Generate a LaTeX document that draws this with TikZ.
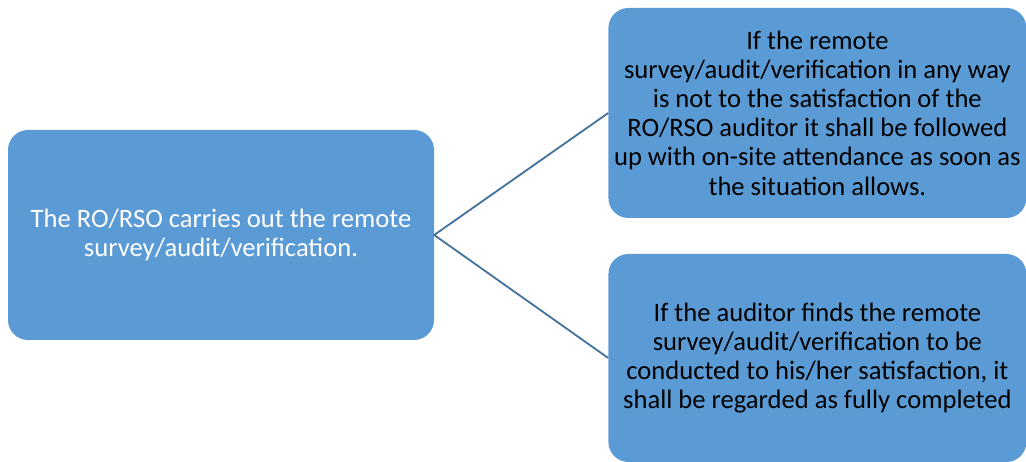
\documentclass[tikz,border=0pt]{standalone}
\usepackage{fontspec}
\setmainfont{Carlito}
\usetikzlibrary{positioning}
\definecolor{boxblue}{HTML}{5B9BD5}
\definecolor{linkblue}{HTML}{41719C}

\begin{document}
\begin{tikzpicture}

      \useasboundingbox (0pt,0pt) rectangle (1026pt,462pt);

      \tikzstyle{stepbox}=[rectangle,rounded corners=20pt,
        minimum width=418pt,minimum height=210pt,inner sep=0pt,
        align=center,fill=boxblue,
        font=\fontsize{26.6}{29.2}\selectfont]

      \node(Remote)[stepbox,minimum width=426pt,text=white]
        at (221pt,227pt)
        {The RO/RSO carries out the remote\\survey/audit/verification.};

      \node(NotOK)[stepbox,right =174pt of Remote,
        yshift=122pt]{If the remote\\survey/audit/verification in any way\\is not to the satisfaction of the\\RO/RSO auditor it shall be followed\\up with on-site attendance as soon as\\the situation allows.};
      \node(OK)[stepbox,right =174pt of Remote,
        yshift=-123pt,minimum height=208pt]{If the auditor finds the remote\\survey/audit/verification to be\\conducted to his/her satisfaction, it\\shall be regarded as fully completed};

      \draw [line width=1.8pt,linkblue]
      (NotOK.west)--(Remote.east)--(OK.west);

    \end{tikzpicture}
\end{document}
